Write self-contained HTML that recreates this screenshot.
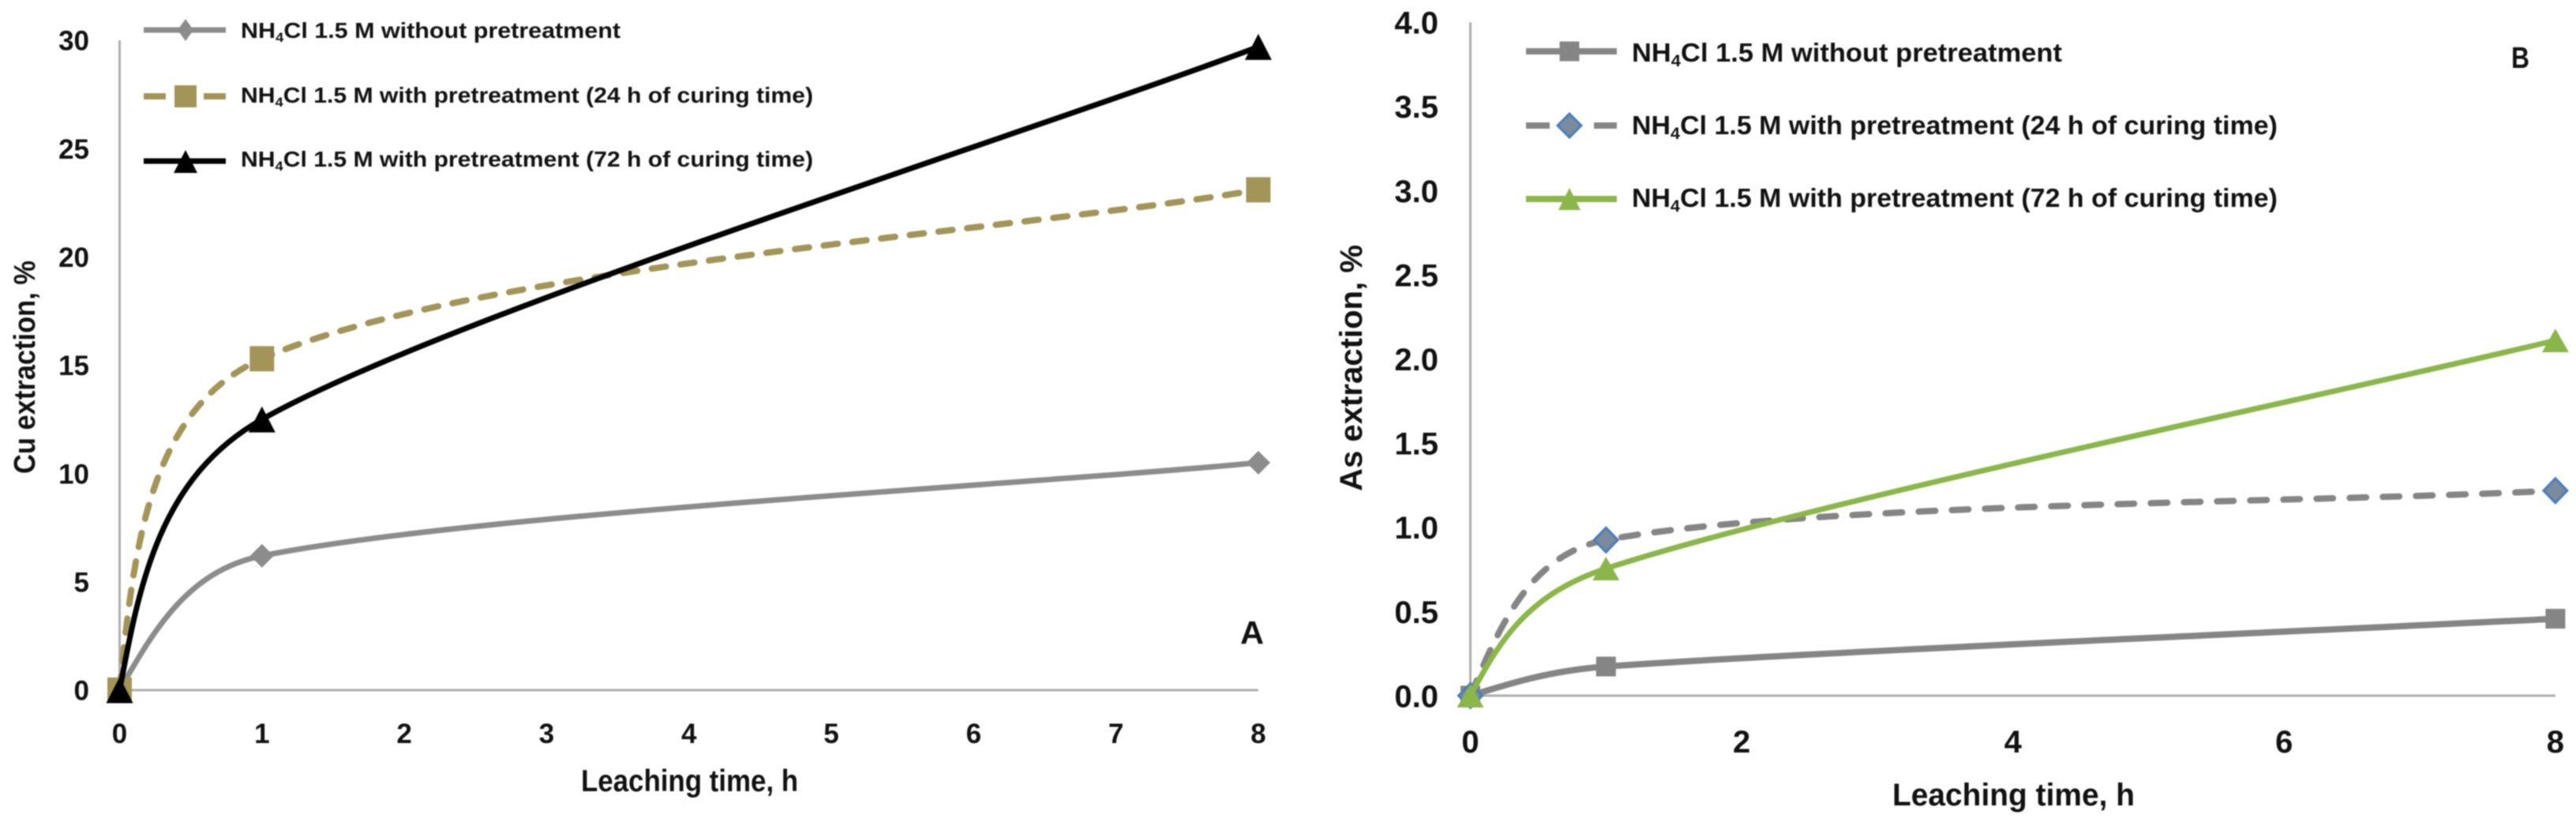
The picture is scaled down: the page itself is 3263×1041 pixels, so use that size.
<!DOCTYPE html>
<html lang="en">
<head>
<meta charset="utf-8">
<title>Cu and As extraction versus leaching time</title>
<style>
html,body{margin:0;padding:0;background:#fff;}
body{width:3263px;height:1041px;overflow:hidden;}
#figure{display:block;filter:blur(0.9px);}
text{font-family:"Liberation Sans",sans-serif;font-weight:bold;fill:#111;}
</style>
</head>
<body>
<svg id="figure" width="3263" height="1041" viewBox="0 0 3263 1041" xmlns="http://www.w3.org/2000/svg">
  <rect width="3263" height="1041" fill="#ffffff"/>

  <g id="panelA"></g>
  <g id="panelB"></g>

  <!-- Panel A text -->
  <text transform="translate(44,600) rotate(-90)" font-size="38" textLength="270" lengthAdjust="spacingAndGlyphs">Cu extraction, %</text>
  <text x="736" y="1002" font-size="39" textLength="275" lengthAdjust="spacingAndGlyphs">Leaching time, h</text>
  <text x="1571" y="815" font-size="41" textLength="30" lengthAdjust="spacingAndGlyphs">A</text>

  <g>
    <g>
      <line x1="182" y1="38" x2="286" y2="38" stroke="#8c8c8c" stroke-width="7"/>
      <polygon points="235,24 245,38 235,52 225,38" fill="#8c8c8c"/>
      <text x="305" y="48" font-size="28" textLength="481" lengthAdjust="spacingAndGlyphs">NH<tspan font-size="17" dy="5">4</tspan><tspan dy="-5">Cl 1.5 M without pretreatment</tspan></text>
    </g>
    <g>
      <line x1="182" y1="122" x2="286" y2="122" stroke="#a39558" stroke-width="8" stroke-dasharray="28 13 22 13 28"/>
      <rect x="221" y="108" width="28" height="28" fill="#a39558"/>
      <text x="305" y="130" font-size="28" textLength="725" lengthAdjust="spacingAndGlyphs">NH<tspan font-size="17" dy="5">4</tspan><tspan dy="-5">Cl 1.5 M with pretreatment (24 h of curing time)</tspan></text>
    </g>
    <g>
      <line x1="182" y1="204" x2="286" y2="204" stroke="#000000" stroke-width="7"/>
      <polygon points="235,190 250,219 220,219" fill="#000000"/>
      <text x="305" y="211" font-size="28" textLength="725" lengthAdjust="spacingAndGlyphs">NH<tspan font-size="17" dy="5">4</tspan><tspan dy="-5">Cl 1.5 M with pretreatment (72 h of curing time)</tspan></text>
    </g>
  </g>

  <!-- Panel B text -->
  <text transform="translate(1725,622) rotate(-90)" font-size="40" textLength="312" lengthAdjust="spacingAndGlyphs">As extraction, %</text>
  <text x="2397" y="1020" font-size="40" textLength="307" lengthAdjust="spacingAndGlyphs">Leaching time, h</text>
  <text x="3181" y="86" font-size="38" textLength="23" lengthAdjust="spacingAndGlyphs">B</text>

  <g>
    <g>
      <line x1="1933" y1="65" x2="2048" y2="65" stroke="#858585" stroke-width="8"/>
      <rect x="1975.5" y="52.5" width="25" height="25" fill="#858585"/>
      <text x="2067" y="78" font-size="33" textLength="545" lengthAdjust="spacingAndGlyphs">NH<tspan font-size="21" dy="6">4</tspan><tspan dy="-6">Cl 1.5 M without pretreatment</tspan></text>
    </g>
    <g>
      <line x1="1933" y1="159" x2="2048" y2="159" stroke="#858585" stroke-width="8" stroke-dasharray="30 24 8 24 30"/>
      <polygon points="1988,144 2003,159 1988,174 1973,159" fill="#7b8a9c" stroke="#4a7ebb" stroke-width="3"/>
      <text x="2067" y="170" font-size="33" textLength="818" lengthAdjust="spacingAndGlyphs">NH<tspan font-size="21" dy="6">4</tspan><tspan dy="-6">Cl 1.5 M with pretreatment (24 h of curing time)</tspan></text>
    </g>
    <g>
      <line x1="1933" y1="252" x2="2048" y2="252" stroke="#8ab64a" stroke-width="8"/>
      <polygon points="1988,238 2002,266 1974,266" fill="#8ab64a"/>
      <text x="2067" y="262" font-size="33" textLength="818" lengthAdjust="spacingAndGlyphs">NH<tspan font-size="21" dy="6">4</tspan><tspan dy="-6">Cl 1.5 M with pretreatment (72 h of curing time)</tspan></text>
    </g>
  </g>
</svg>

<script>
// Sampled leaching times (h)
const timePoints = [0, 1, 8];

// Panel A: Cu extraction, %
const cuNoPretreatment = [0, 6.2, 10.5];
const cu24hCuring = [0, 15.3, 23.1];
const cu72hCuring = [0, 12.5, 29.7];
const cuYTicks = [0, 5, 10, 15, 20, 25, 30];
const cuXTicks = [0, 1, 2, 3, 4, 5, 6, 7, 8];

// Panel B: As extraction, %
const asNoPretreatment = [0, 0.173, 0.457];
const as24hCuring = [0, 0.925, 1.218];
const as72hCuring = [0, 0.755, 2.11];
const asYTickLabels = ['0.0', '0.5', '1.0', '1.5', '2.0', '2.5', '3.0', '3.5', '4.0'];
const asXTicks = [0, 2, 4, 6, 8];

const NS = 'http://www.w3.org/2000/svg';

// Axis functions
function xA(v) { return 151.5 + v * 180.3; }
function yA(v) { return 874 - v * 27.43; }
function xB(v) { return 1862.5 + v * 171.8; }
function yB(v) { return 881 - v * 213.2; }

// Smoothed curve through the points (office-style bezier tangents)
function smoothPath(points, before, after) {
  let d = 'M' + points[0][0] + ' ' + points[0][1];
  for (let i = 0; i < points.length - 1; i++) {
    const a = points[i];
    const b = points[i + 1];
    let c1, c2;
    if (i === 0) {
      const t = points[i + 2] ? [points[i + 2][0] - a[0], points[i + 2][1] - a[1]] : [0, 0];
      const cb = [b[0] - t[0] * before, b[1] - t[1] * before];
      c1 = [a[0] + 0.5 * (cb[0] - a[0]), a[1] + 0.5 * (cb[1] - a[1])];
    } else {
      const p = points[i - 1];
      c1 = [a[0] + (b[0] - p[0]) * after, a[1] + (b[1] - p[1]) * after];
    }
    if (i + 2 < points.length) {
      const n = points[i + 2];
      c2 = [b[0] - (n[0] - a[0]) * before, b[1] - (n[1] - a[1]) * before];
    } else {
      c2 = [b[0] - 0.25 * (b[0] - a[0]), b[1] - 0.25 * (b[1] - a[1])];
    }
    d += ' C' + c1[0] + ' ' + c1[1] + ' ' + c2[0] + ' ' + c2[1] + ' ' + b[0] + ' ' + b[1];
  }
  return d;
}

function drawAxes(host, x, y, xTicks, yTicks, yLabels, opts) {
  const yAxis = document.createElementNS(NS, 'line');
  
  
  yAxis.setAttribute('x1', x(0));
  yAxis.setAttribute('x2', x(0));
  yAxis.setAttribute('y1', y(yTicks[yTicks.length - 1]));
  yAxis.setAttribute('y2', y(0));
  yAxis.setAttribute('stroke', '#aeaeae');
  yAxis.setAttribute('stroke-width', '3');
  host.appendChild(yAxis);

  const xAxis = document.createElementNS(NS, 'line');
  
  
  xAxis.setAttribute('x1', x(0));
  xAxis.setAttribute('x2', x(xTicks[xTicks.length - 1]));
  xAxis.setAttribute('y1', y(0));
  xAxis.setAttribute('y2', y(0));
  xAxis.setAttribute('stroke', '#aeaeae');
  xAxis.setAttribute('stroke-width', '3');
  host.appendChild(xAxis);

  yTicks.forEach(function (v, i) {
    const t = document.createElementNS(NS, 'text');
    
    
    t.setAttribute('x', opts.yTickX);
    t.setAttribute('y', y(v) + opts.yTickFont * 0.36);
    t.setAttribute('text-anchor', 'end');
    t.setAttribute('font-size', opts.yTickFont);
    t.textContent = yLabels[i];
    host.appendChild(t);
  });

  xTicks.forEach(function (v) {
    const t = document.createElementNS(NS, 'text');
    
    
    t.setAttribute('x', x(v));
    t.setAttribute('y', opts.xTickBaseline);
    t.setAttribute('text-anchor', 'middle');
    t.setAttribute('font-size', opts.xTickFont);
    t.textContent = String(v);
    host.appendChild(t);
  });
}

function drawSeries(host, x, y, xs, ys, style) {
  const pts = xs.map(function (v, i) { return [x(v), y(ys[i])]; });

  const path = document.createElementNS(NS, 'path');
  
  
  path.setAttribute('d', smoothPath(pts, style.before, style.after));
  path.setAttribute('fill', 'none');
  path.setAttribute('stroke', style.color);
  path.setAttribute('stroke-width', style.width);
  if (style.dash) {
    path.setAttribute('stroke-dasharray', style.dash);
    path.setAttribute('stroke-linecap', 'round');
  }
  host.appendChild(path);

  pts.forEach(function (p) {
    const w = style.mw / 2;
    const h = style.mh / 2;
    let m;
    if (style.marker === 'square') {
      m = document.createElementNS(NS, 'rect');
      m.setAttribute('x', p[0] - w);
      m.setAttribute('y', p[1] - h);
      m.setAttribute('width', style.mw);
      m.setAttribute('height', style.mh);
    } else if (style.marker === 'diamond') {
      m = document.createElementNS(NS, 'polygon');
      m.setAttribute('points', [p[0], p[1] - h, p[0] + w, p[1], p[0], p[1] + h, p[0] - w, p[1]].join(' '));
    } else {
      m = document.createElementNS(NS, 'polygon');
      m.setAttribute('points', [p[0], p[1] - h, p[0] + w, p[1] + h, p[0] - w, p[1] + h].join(' '));
    }
    
    
    m.setAttribute('fill', style.fill);
    if (style.stroke) {
      m.setAttribute('stroke', style.stroke);
      m.setAttribute('stroke-width', '3');
    }
    host.appendChild(m);
  });
}

const panelA = document.getElementById('panelA');
drawAxes(panelA, xA, yA, cuXTicks, cuYTicks, cuYTicks.map(String), {
  yTickX: 113, yTickFont: 35, xTickBaseline: 941, xTickFont: 35
});
drawSeries(panelA, xA, yA, timePoints, cuNoPretreatment, {
  name: 'cu-no-pretreatment', color: '#8c8c8c', width: 7, marker: 'diamond', mw: 30, mh: 30, fill: '#8c8c8c', before: 0.065, after: 0.184
});
drawSeries(panelA, xA, yA, timePoints, cu24hCuring, {
  name: 'cu-24h-curing', color: '#a39558', width: 8, dash: '18 18.6', marker: 'square', mw: 31, mh: 32, fill: '#a39558', before: 0.10, after: 0.184
});
drawSeries(panelA, xA, yA, timePoints, cu72hCuring, {
  name: 'cu-72h-curing', color: '#000000', width: 7, marker: 'triangle', mw: 34, mh: 33, fill: '#000000', before: 0.09, after: 0.16
});

const panelB = document.getElementById('panelB');
drawAxes(panelB, xB, yB, asXTicks, asYTickLabels.map(Number), asYTickLabels, {
  yTickX: 1822, yTickFont: 40, xTickBaseline: 953, xTickFont: 40
});
drawSeries(panelB, xB, yB, timePoints, asNoPretreatment, {
  name: 'as-no-pretreatment', color: '#858585', width: 8, marker: 'square', mw: 25, mh: 25, fill: '#858585', before: 0.05, after: 0.184
});
drawSeries(panelB, xB, yB, timePoints, as24hCuring, {
  name: 'as-24h-curing', color: '#858585', width: 8, dash: '21 21', marker: 'diamond', mw: 30, mh: 31, fill: '#7b8a9c', stroke: '#4a7ebb', before: 0.07, after: 0.184
});
drawSeries(panelB, xB, yB, timePoints, as72hCuring, {
  name: 'as-72h-curing', color: '#8ab64a', width: 7, marker: 'triangle', mw: 34, mh: 30, fill: '#8ab64a', before: 0.075, after: 0.184
});
</script>
</body>
</html>
